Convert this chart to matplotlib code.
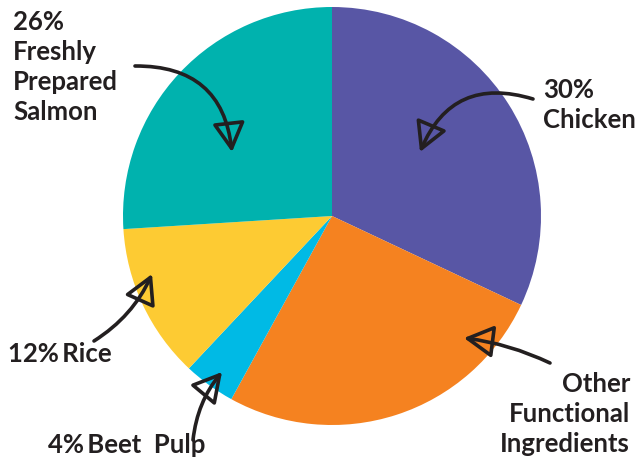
import matplotlib
matplotlib.use("Agg")
import matplotlib.pyplot as plt

categories = ["Chicken", "Other Functional Ingredients", "Beet Pulp", "Rice", "Freshly Prepared Salmon"]
values = [32, 26, 4, 12, 26]
colors = ["#5856A5", "#F58220", "#00BAE5", "#FDCB33", "#00B2AE"]
labels = ["30%\nChicken", "Other\nFunctional\nIngredients", "4%\u2009Beet  Pulp", "12%\u2009Rice",
          "26%\nFreshly\nPrepared\nSalmon"]

W, H = 636, 463
fig = plt.figure(figsize=(W / 100, H / 100), dpi=100)
ax = fig.add_axes([0, 0, 1, 1])
ax.pie(values, colors=colors, startangle=90, counterclock=False,
       center=(332, H - 216), radius=209, wedgeprops=dict(linewidth=0))
ax.set_xlim(0, W)
ax.set_ylim(0, H)
ax.set_aspect("equal")
ax.axis("off")

ink = "#231F20"
font = dict(family=["Lato", "DejaVu Sans"], fontsize=18.5, color=ink, weight="bold",
            linespacing=1.3)

label_pos = [
    (labels[0], 543, 78, "left", "top"),
    (labels[1], 630, 372, "right", "top"),
    (labels[2], 48, 453, "left", "baseline"),
    (labels[3], 8, 362, "left", "baseline"),
    (labels[4], 13, 10, "left", "top"),
]
for txt, x, y, ha, va in label_pos:
    ax.text(x, H - y, txt, ha=ha, va=va, **font)

arrows = [
    ((533, 99), (420, 152), 0.45),
    ((550, 363), (464, 338), 0.08),
    ((193, 440), (222, 372), -0.15),
    ((94, 341), (152, 274), 0.15),
    ((135, 66), (232, 152), -0.45),
]
for (x0, y0), (x1, y1), rad in arrows:
    ax.annotate("", xy=(x1, H - y1), xytext=(x0, H - y0),
                arrowprops=dict(arrowstyle="-|>,head_length=0.9,head_width=0.5",
                                connectionstyle=f"arc3,rad={rad}",
                                fc="none", ec=ink, lw=2.6, mutation_scale=20,
                                shrinkA=0, shrinkB=0))

fig.savefig("out.png", dpi=100)
